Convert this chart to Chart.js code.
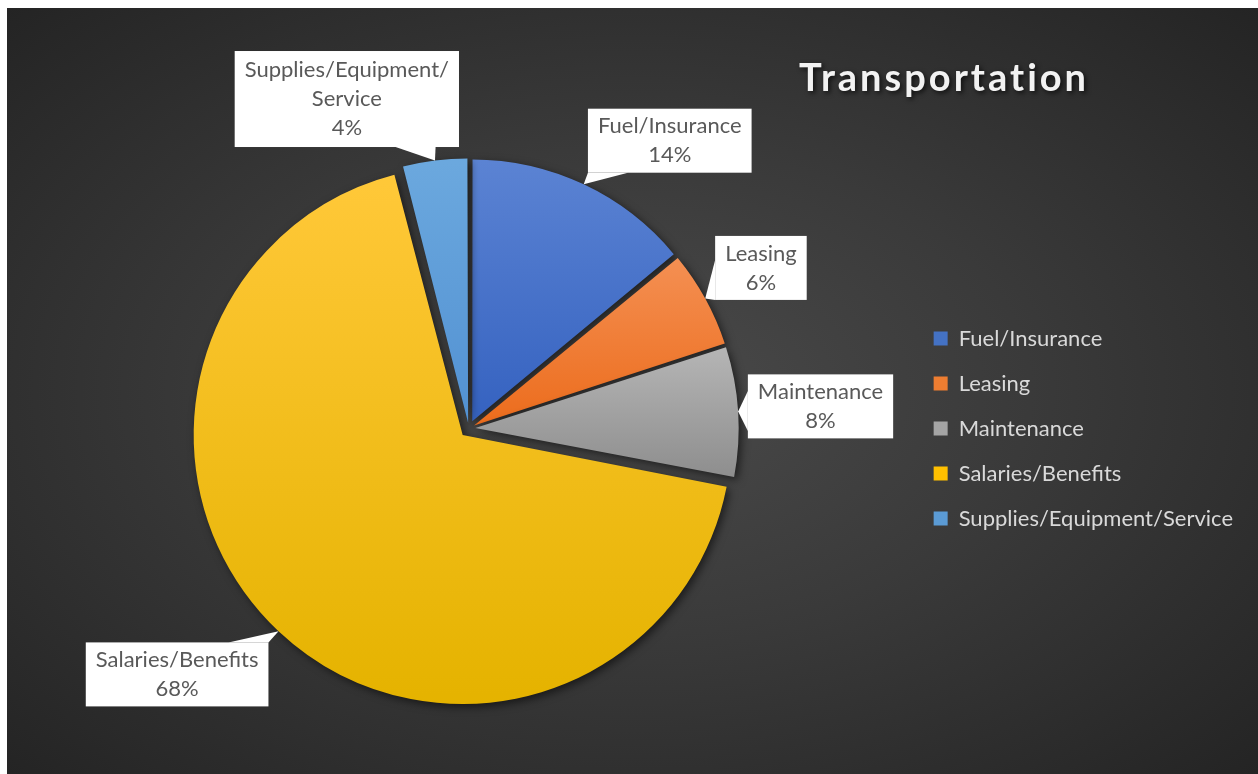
<!DOCTYPE html>
<html>
<head>
<meta charset="utf-8">
<title>Transportation</title>
<script src="https://cdn.jsdelivr.net/npm/chart.js@4.4.0/dist/chart.umd.min.js"></script>
<style>
  body { margin: 0; background: #fff; }
  .wrap {
    position: absolute; left: 7px; top: 8px; width: 1251px; height: 766px;
    background: radial-gradient(ellipse farthest-corner at 50% 50%, #4a4a4a 0%, #3a3a3a 45%, #242424 100%);
  }
</style>
</head>
<body>
<div class="wrap"><canvas id="pie"></canvas></div>
<script>
const categories = ["Fuel/Insurance", "Leasing", "Maintenance", "Salaries/Benefits", "Supplies/Equipment/Service"];
const shares = [14, 6, 8, 68, 4];
const chartTitle = "Transportation";

// slice colours: flat (legend), gradient top and bottom
const baseColors = ["#4472c4", "#ed7d31", "#a5a5a5", "#ffc000", "#5b9bd5"];
const topColors = ["#5b83d3", "#f48f52", "#b5b5b5", "#ffc838", "#6ba8de"];
const bottomColors = ["#3562c0", "#ec6c1c", "#8e8e8e", "#e5b300", "#5291d2"];
const explode = [32, 24, 26, 36, 23];
// callout placement tweaks: turn (degrees) and gap to the slice edge (px)
const calloutTurn = [10, 0, 0, 7, -13.5];
const calloutGap = [8, 8, 8, 13, -3];

const FONT = "Lato, 'Open Sans', sans-serif";

function wrapText(ctx, text, maxW) {
  const parts = text.split(/(?<=\/)/);
  const lines = [];
  let cur = "";
  parts.forEach(p => {
    if (cur && ctx.measureText(cur + p).width > maxW) {
      lines.push(cur);
      cur = p;
    } else {
      cur += p;
    }
  });
  if (cur) lines.push(cur);
  return lines;
}

// gradient fill + drop shadow for the slices
const sliceLook = {
  id: "sliceLook",
  beforeDatasetsDraw(chart) {
    const ctx = chart.ctx;
    chart.getDatasetMeta(0).data.forEach((arc, i) => {
      let y0 = arc.y, y1 = arc.y;
      for (let k = 0; k <= 40; k++) {
        const a = arc.startAngle + (arc.endAngle - arc.startAngle) * k / 40;
        const y = arc.y + Math.sin(a) * arc.outerRadius;
        y0 = Math.min(y0, y);
        y1 = Math.max(y1, y);
      }
      const g = ctx.createLinearGradient(0, y0, 0, y1);
      g.addColorStop(0, topColors[i]);
      g.addColorStop(1, bottomColors[i]);
      arc.options.backgroundColor = g;
    });
    ctx.save();
    ctx.shadowColor = "rgba(0,0,0,0.55)";
    ctx.shadowBlur = 9;
    ctx.shadowOffsetX = 3;
    ctx.shadowOffsetY = 3;
  },
  afterDatasetsDraw(chart) {
    chart.ctx.restore();
  }
};

// white callout boxes with a wedge pointing at each slice
const callouts = {
  id: "callouts",
  afterDatasetsDraw(chart) {
    const ctx = chart.ctx;
    const total = shares.reduce((a, b) => a + b, 0);
    ctx.save();
    ctx.font = "22px " + FONT;
    chart.getDatasetMeta(0).data.forEach((arc, i) => {
      const mid = (arc.startAngle + arc.endAngle) / 2;
      const fix = 1 - Math.sin(Math.min(Math.PI, arc.circumference));
      const off = arc.options.offset / 4 * (1 + fix);
      const cx = arc.x + Math.cos(mid) * off;
      const cy = arc.y + Math.sin(mid) * off;
      const tipX = cx + Math.cos(mid) * arc.outerRadius;
      const tipY = cy + Math.sin(mid) * arc.outerRadius;

      const lines = wrapText(ctx, categories[i], 225);
      lines.push(Math.round(shares[i] / total * 100) + "%");
      const lh = 29;
      const w = Math.max(...lines.map(l => ctx.measureText(l).width)) + 20;
      const h = lines.length * lh + (lines.length > 2 ? 9 : 6);
      const a = mid + calloutTurn[i] * Math.PI / 180;
      const dx = Math.cos(a), dy = Math.sin(a);
      const dist = arc.outerRadius + calloutGap[i] + Math.abs(dx) * w / 2 + Math.abs(dy) * h / 2;
      const bx = cx + dx * dist, by = cy + dy * dist;
      const L = bx - w / 2, R = bx + w / 2, T = by - h / 2, B = by + h / 2;

      // where the line box-centre -> tip leaves the box
      const vx = tipX - bx, vy = tipY - by;
      const tx = vx !== 0 ? (w / 2) / Math.abs(vx) : Infinity;
      const ty = vy !== 0 ? (h / 2) / Math.abs(vy) : Infinity;
      const half = 20;
      let p1, p2;
      if (ty < tx) {
        const ex = bx + vx * ty, ey = vy > 0 ? B : T;
        const s = Math.min(Math.max(ex, L + half), R - half);
        p1 = [s - half, ey]; p2 = [s + half, ey];
      } else {
        const ey = by + vy * tx, ex = vx > 0 ? R : L;
        const s = Math.min(Math.max(ey, T + half), B - half);
        p1 = [ex, s - half]; p2 = [ex, s + half];
      }
      ctx.fillStyle = "#ffffff";
      ctx.beginPath();
      ctx.moveTo(tipX, tipY);
      ctx.lineTo(p1[0], p1[1]);
      ctx.lineTo(p2[0], p2[1]);
      ctx.closePath();
      ctx.fill();
      ctx.fillRect(L, T, w, h);

      ctx.fillStyle = "#595959";
      ctx.textAlign = "center";
      ctx.textBaseline = "middle";
      const top = by - lines.length * lh / 2;
      lines.forEach((l, k) => ctx.fillText(l, bx, top + lh * (k + 0.5)));
    });
    ctx.restore();
  }
};

const titlePlugin = {
  id: "titleText",
  afterDraw(chart) {
    const ctx = chart.ctx;
    ctx.save();
    ctx.font = "bold 38px " + FONT;
    ctx.letterSpacing = "3px";
    ctx.textAlign = "center";
    ctx.textBaseline = "alphabetic";
    ctx.shadowColor = "rgba(0,0,0,0.7)";
    ctx.shadowBlur = 5;
    ctx.shadowOffsetX = 2;
    ctx.shadowOffsetY = 2;
    ctx.fillStyle = "#f2f2f2";
    ctx.fillText(chartTitle, 937, 83);
    ctx.restore();
  }
};

new Chart(document.getElementById("pie"), {
  type: "pie",
  data: {
    labels: categories,
    datasets: [
      {
        data: shares,
        backgroundColor: baseColors,
        borderWidth: 0,
        offset: explode,
      },
    ],
  },
  options: {
    responsive: true,
    maintainAspectRatio: false,
    animation: false,
    events: [],
    radius: 260,
    layout: { padding: { top: 75, bottom: 0, left: 20, right: 15 } },
    plugins: {
      title: { display: false },
      tooltip: { enabled: false },
      legend: {
        position: "right",
        labels: {
          color: "#d9d9d9",
          font: { family: FONT, size: 22 },
          boxWidth: 14,
          boxHeight: 14,
          padding: 23,
        },
      },
    },
  },
  plugins: [sliceLook, callouts, titlePlugin],
});
</script>
</body>
</html>
